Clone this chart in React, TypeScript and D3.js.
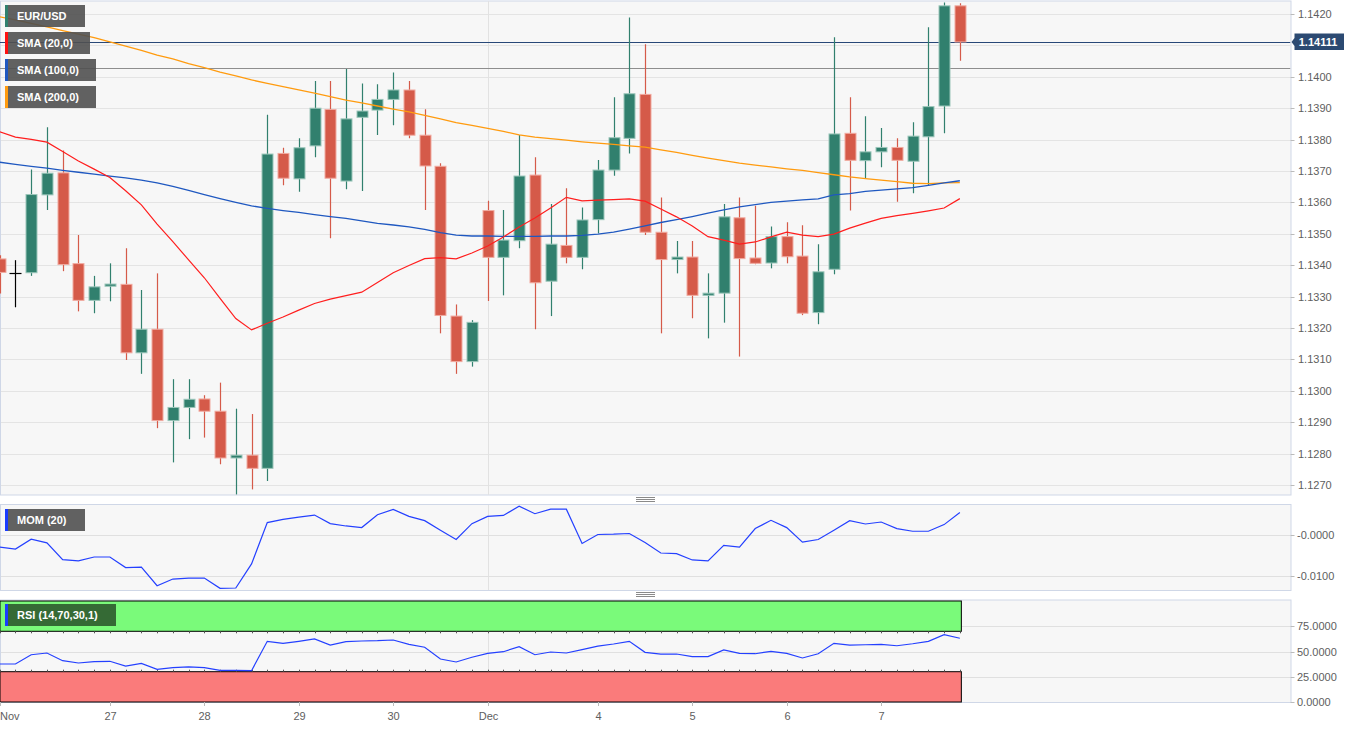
import React from 'react';
import * as d3 from 'd3';

// ---- data (4h EUR/USD candles) ----
const opens = [1.13420, 1.13374, 1.13376, 1.13624, 1.13694, 1.13405, 1.13288, 1.13333, 1.13339, 1.13121,
  1.13196, 1.12905, 1.12947, 1.12974, 1.12935, 1.12786, 1.12795, 1.12753, 1.13756, 1.13675,
  1.13780, 1.13896, 1.13668, 1.13871, 1.13894, 1.13928, 1.13958, 1.13814, 1.13715, 1.13238,
  1.13093, 1.13574, 1.13425, 1.13478, 1.13687, 1.13349, 1.13463, 1.13425, 1.13545, 1.13703,
  1.13804, 1.13944, 1.13505, 1.13418, 1.13426, 1.13304, 1.13311, 1.13551, 1.13423, 1.13407,
  1.13491, 1.13429, 1.13249, 1.13387, 1.13820, 1.13733, 1.13761, 1.13775, 1.13731, 1.13809,
  1.13907, 1.14226];
const highs = [1.13432, 1.13416, 1.13705, 1.13839, 1.13765, 1.13496, 1.13366, 1.13406, 1.13454, 1.13321,
  1.13374, 1.13037, 1.13037, 1.12986, 1.13026, 1.12943, 1.12926, 1.13879, 1.13774, 1.13804,
  1.13987, 1.13987, 1.14025, 1.13979, 1.13976, 1.14014, 1.13987, 1.13897, 1.13725, 1.13275,
  1.13225, 1.13605, 1.13576, 1.13815, 1.13744, 1.13595, 1.13645, 1.13584, 1.13735, 1.13935,
  1.14189, 1.14104, 1.13616, 1.13477, 1.13477, 1.13374, 1.13595, 1.13616, 1.13589, 1.13523,
  1.13537, 1.13527, 1.13467, 1.14126, 1.13935, 1.13874, 1.13837, 1.13804, 1.13855, 1.14158,
  1.14237, 1.14234];
const lows = [1.13310, 1.13266, 1.13366, 1.13576, 1.13381, 1.13253, 1.13247, 1.13285, 1.13098, 1.13054,
  1.12881, 1.12772, 1.12846, 1.12851, 1.12766, 1.12670, 1.12686, 1.12713, 1.13655, 1.13634,
  1.13744, 1.13486, 1.13642, 1.13636, 1.13815, 1.13846, 1.13804, 1.13576, 1.13183, 1.13054,
  1.13077, 1.13286, 1.13304, 1.13454, 1.13196, 1.13238, 1.13406, 1.13387, 1.13502, 1.13685,
  1.13756, 1.13496, 1.13183, 1.13374, 1.13231, 1.13167, 1.13217, 1.13109, 1.13403, 1.13390,
  1.13406, 1.13241, 1.13212, 1.13371, 1.13574, 1.13677, 1.13712, 1.13602, 1.13629, 1.13653,
  1.13820, 1.14051];
const closes = [1.13377, 1.13374, 1.13625, 1.13693, 1.13402, 1.13288, 1.13331, 1.13340, 1.13121, 1.13196,
  1.12905, 1.12947, 1.12973, 1.12935, 1.12786, 1.12795, 1.12753, 1.13754, 1.13677, 1.13774,
  1.13900, 1.13677, 1.13866, 1.13891, 1.13928, 1.13958, 1.13814, 1.13716, 1.13240, 1.13093,
  1.13218, 1.13425, 1.13480, 1.13684, 1.13344, 1.13467, 1.13425, 1.13544, 1.13703, 1.13806,
  1.13946, 1.13505, 1.13418, 1.13426, 1.13304, 1.13311, 1.13554, 1.13421, 1.13406, 1.13491,
  1.13427, 1.13247, 1.13379, 1.13818, 1.13734, 1.13761, 1.13775, 1.13734, 1.13811, 1.13905,
  1.14226, 1.14111];

const sma20 = [1.13825, 1.13808, 1.13801, 1.13792, 1.13762, 1.13732, 1.13706, 1.13679, 1.13637, 1.13592,
  1.13531, 1.13475, 1.13417, 1.13360, 1.13294, 1.13230, 1.13194, 1.13215, 1.13235, 1.13257,
  1.13278, 1.13292, 1.13303, 1.13314, 1.13345, 1.13376, 1.13399, 1.13421, 1.13424, 1.13420,
  1.13439, 1.13461, 1.13490, 1.13522, 1.13550, 1.13582, 1.13616, 1.13605, 1.13607, 1.13609,
  1.13611, 1.13604, 1.13579, 1.13554, 1.13525, 1.13491, 1.13480, 1.13467, 1.13474, 1.13490,
  1.13505, 1.13496, 1.13491, 1.13499, 1.13518, 1.13534, 1.13549, 1.13558, 1.13565, 1.13573,
  1.13582, 1.13612];
const sma100 = [1.13728, 1.13721, 1.13715, 1.13709, 1.13702, 1.13696, 1.13690, 1.13684, 1.13678, 1.13671,
  1.13662, 1.13651, 1.13638, 1.13625, 1.13612, 1.13600, 1.13589, 1.13581, 1.13574, 1.13568,
  1.13561, 1.13555, 1.13549, 1.13541, 1.13533, 1.13528, 1.13522, 1.13514, 1.13504, 1.13496,
  1.13493, 1.13493, 1.13492, 1.13492, 1.13492, 1.13493, 1.13493, 1.13495, 1.13499, 1.13505,
  1.13515, 1.13525, 1.13536, 1.13545, 1.13555, 1.13566, 1.13576, 1.13586, 1.13593, 1.13600,
  1.13604, 1.13608, 1.13611, 1.13624, 1.13628, 1.13635, 1.13639, 1.13643, 1.13647, 1.13654,
  1.13662, 1.13669];
const sma200 = [1.14191, 1.14181, 1.14170, 1.14159, 1.14147, 1.14136, 1.14125, 1.14111, 1.14098, 1.14084,
  1.14069, 1.14057, 1.14042, 1.14029, 1.14015, 1.14003, 1.13990, 1.13979, 1.13969, 1.13958,
  1.13948, 1.13937, 1.13926, 1.13917, 1.13907, 1.13897, 1.13888, 1.13877, 1.13866, 1.13854,
  1.13845, 1.13836, 1.13826, 1.13815, 1.13808, 1.13803, 1.13798, 1.13793, 1.13789, 1.13785,
  1.13780, 1.13776, 1.13767, 1.13759, 1.13750, 1.13741, 1.13733, 1.13725, 1.13719, 1.13713,
  1.13707, 1.13702, 1.13695, 1.13688, 1.13681, 1.13676, 1.13671, 1.13666, 1.13661, 1.13660,
  1.13662, 1.13663];

const mom20 = [-0.00295, -0.00344, -0.00098, -0.00189, -0.00607, -0.00639, -0.00541, -0.00541, -0.00804, -0.00794,
  -0.01253, -0.01088, -0.01064, -0.01064, -0.01319, -0.01310, -0.00713, 0.00312, 0.00393, 0.00450,
  0.00499, 0.00287, 0.00229, 0.00189, 0.00509, 0.00639, 0.00467, 0.00361, 0.00123, -0.00106,
  0.00287, 0.00467, 0.00491, 0.00720, 0.00533, 0.00646, 0.00646, -0.00204, 0.00017, 0.00025,
  0.00042, -0.00179, -0.00442, -0.00459, -0.00614, -0.00639, -0.00253, -0.00295, 0.00165, 0.00369,
  0.00189, -0.00172, -0.00106, 0.00123, 0.00361, 0.00278, 0.00327, 0.00165, 0.00098, 0.00098,
  0.00263, 0.00565];
const rsi14 = [37.6, 37.6, 46.8, 48.5, 40.9, 38.6, 39.9, 40.3, 35.6, 38.3,
  32.4, 34.0, 34.7, 34.0, 31.4, 31.4, 31.0, 60.1, 58.1, 60.1,
  62.4, 56.4, 59.7, 60.4, 60.7, 61.4, 57.1, 54.2, 42.6, 39.6,
  44.3, 48.2, 49.8, 54.8, 46.8, 49.5, 48.5, 51.8, 55.4, 57.4,
  60.1, 49.2, 47.5, 47.5, 44.9, 44.9, 51.5, 48.2, 47.8, 50.2,
  48.2, 43.6, 47.8, 58.1, 56.4, 56.7, 57.1, 55.7, 57.7, 60.1,
  66.6, 63.1];

const priceTicks = [1.1270, 1.1280, 1.1290, 1.1300, 1.1310, 1.1320, 1.1330, 1.1340, 1.1350, 1.1360, 1.1370, 1.1380, 1.1390, 1.1400, 1.1420];
const momTicks = [0, -0.01];
const momTickLabels = ['-0.0000', '-0.0100'];
const rsiTicks = [75, 50, 25, 0];
const rsiTickLabels = ['75.0000', '50.0000', '25.0000', '0.0000'];
const dateTickIndex = [7, 13, 19, 25, 31, 38, 44, 50, 56];
const dateTickLabels = ['27', '28', '29', '30', 'Dec', '4', '5', '6', '7'];
const lastPrice = 1.14111;
const refLevel = 1.14028;
const rsiUpper = 70;
const rsiLower = 30;

const GREEN = '#31806e';
const RED = '#d55a49';
const FONT = '"Liberation Sans", Arial, sans-serif';

export default function App() {
  const PR = 1290.5; // plot right edge
  const n = opens.length;
  const x = d3.scaleLinear().domain([0, 82]).range([-0.3, 1290.4]);
  const y = d3.scaleLinear().domain([1.1270, 1.1420]).range([485, 14]);
  const yM = d3.scaleLinear().domain([-0.01, 0]).range([575.5, 535.2]);
  const yR = d3.scaleLinear().domain([0, 100]).range([702, 601]);

  const mk = (sc: (v: number) => number) =>
    d3.line<number>().x((_, i) => x(i)).y((v) => sc(v));
  const mainLine = mk(y);
  const momLine = mk(yM);
  const rsiLine = mk(yR);

  const cx = (i: number) => Math.round(x(i)) + 0.5;
  const lastX = x(n - 1);

  const allTicks = [...priceTicks.slice(0, 14), 1.1410 - 0.0000, 1.1420].filter((v, i, a) => a.indexOf(v) === i);
  const gridPrices = d3.range(0, 16).map((k) => +(1.1270 + k * 0.001).toFixed(4));

  const legend = (yy: number, w: number, label: string, marker: string, fill = '#505050') => (
    <g key={label}>
      <rect x={5} y={yy} width={w} height={22} fill={fill} opacity={0.9} />
      <rect x={5} y={yy} width={3} height={22} fill={marker} />
      <text x={17} y={yy + 15} fill="#fff" fontSize={11} fontWeight="bold" fontFamily={FONT}>{label}</text>
    </g>
  );

  return (
    <svg width={1361} height={729} style={{ position: 'absolute', left: 0, top: 0, background: '#fff' }}>
      <defs>
        <clipPath id="mainClip"><rect x={0} y={1} width={PR} height={494} /></clipPath>
        <clipPath id="momClip"><rect x={0} y={504} width={PR} height={86} /></clipPath>
        <clipPath id="rsiClip"><rect x={0} y={600} width={PR} height={103} /></clipPath>
      </defs>

      {/* panel backgrounds */}
      <rect x={0.5} y={1} width={PR} height={494} fill="#f7f7f7" stroke="#cfd7e7" />
      <rect x={0.5} y={504.5} width={PR} height={86} fill="#f7f7f7" stroke="#cfd7e7" />
      <rect x={0.5} y={600} width={PR} height={102.5} fill="#f7f7f7" stroke="#cfd7e7" />

      {/* main grid */}
      {gridPrices.map((p) => (
        <line key={'g' + p} x1={1} x2={PR} y1={Math.round(y(p)) + 0.5} y2={Math.round(y(p)) + 0.5} stroke="#e4e4e4" />
      ))}
      {/* month separator */}
      <line x1={cx(31)} x2={cx(31)} y1={1} y2={495} stroke="#e2e2e2" />
      <line x1={cx(31)} x2={cx(31)} y1={505} y2={590} stroke="#e2e2e2" />
      <line x1={cx(31)} x2={cx(31)} y1={600} y2={702} stroke="#e2e2e2" />

      {/* main panel contents */}
      <g clipPath="url(#mainClip)">
        <line x1={0} x2={PR} y1={Math.round(y(refLevel)) + 0.5} y2={Math.round(y(refLevel)) + 0.5} stroke="#8e8e8e" strokeWidth={1.2} />
        <line x1={0} x2={PR} y1={Math.round(y(lastPrice)) + 0.5} y2={Math.round(y(lastPrice)) + 0.5} stroke="#284878" strokeWidth={1.2} />
        {opens.map((o, i) => {
          const c = closes[i];
          const col = o === c ? '#000' : c > o ? GREEN : RED;
          const top = y(Math.max(o, c));
          const bot = y(Math.min(o, c));
          const xc = cx(i);
          return (
            <g key={'c' + i}>
              <line x1={xc} x2={xc} y1={y(highs[i])} y2={y(lows[i])} stroke={col} strokeWidth={1.2} />
              {o === c ? (
                <line x1={xc - 6} x2={xc + 6} y1={Math.round(top) + 0.5} y2={Math.round(top) + 0.5} stroke="#000" strokeWidth={1.2} />
              ) : (
                <rect x={xc - 5.5} y={top} width={11} height={Math.max(1.5, bot - top)} fill={col}
                  stroke={c > o ? '#9bc6ba' : '#f1aaa0'} strokeWidth={1} />
              )}
            </g>
          );
        })}
        <path d={mainLine(sma200) || ''} fill="none" stroke="#ff9b0f" strokeWidth={1.3} />
        <path d={mainLine(sma100) || ''} fill="none" stroke="#1f58c0" strokeWidth={1.3} />
        <path d={mainLine(sma20) || ''} fill="none" stroke="#ff1e1e" strokeWidth={1.2} />
      </g>

      {/* main legend */}
      {legend(5, 80, 'EUR/USD', GREEN)}
      {legend(32, 85, 'SMA (20,0)', '#ff1010')}
      {legend(59, 91, 'SMA (100,0)', '#1f58c0')}
      {legend(86, 91, 'SMA (200,0)', '#ff9b0f')}

      {/* price axis */}
      {priceTicks.map((p) => (
        <g key={'pt' + p}>
          <line x1={PR} x2={PR + 4} y1={Math.round(y(p)) + 0.5} y2={Math.round(y(p)) + 0.5} stroke="#bbb" />
          <text x={1298} y={y(p) + 4} fontSize={11} fill="#5e5e5e" fontFamily={FONT}>{p.toFixed(4)}</text>
        </g>
      ))}
      {/* last price tag */}
      <g>
        <path d={`M${PR + 1},${y(lastPrice)} L${PR + 4},${y(lastPrice) - 4} L${PR + 4},${y(lastPrice) - 8.5} L1344,${y(lastPrice) - 8.5} L1344,${y(lastPrice) + 8} L${PR + 4},${y(lastPrice) + 8} L${PR + 4},${y(lastPrice) + 4} Z`} fill="#2c4a72" />
        <text x={1318} y={y(lastPrice) + 4} textAnchor="middle" fontSize={11} fontWeight="bold" fill="#fff" fontFamily={FONT}>{lastPrice.toFixed(5)}</text>
      </g>

      {/* panel handles */}
      {[497, 499, 501].map((yy) => <line key={'h1' + yy} x1={636} x2={655} y1={yy + 0.5} y2={yy + 0.5} stroke="#8a8a8a" />)}
      {[592, 594, 596].map((yy) => <line key={'h2' + yy} x1={636} x2={655} y1={yy + 0.5} y2={yy + 0.5} stroke="#8a8a8a" />)}

      {/* MOM panel */}
      {momTicks.map((v, k) => (
        <g key={'mt' + k}>
          <line x1={1} x2={PR} y1={Math.round(yM(v)) + 0.5} y2={Math.round(yM(v)) + 0.5} stroke="#e0e0e0" />
          <line x1={PR} x2={PR + 4} y1={Math.round(yM(v)) + 0.5} y2={Math.round(yM(v)) + 0.5} stroke="#bbb" />
          <text x={1297} y={yM(v) + 4} fontSize={11} fill="#5e5e5e" fontFamily={FONT}>{momTickLabels[k]}</text>
        </g>
      ))}
      <g clipPath="url(#momClip)">
        <path d={momLine(mom20) || ''} fill="none" stroke="#2440ff" strokeWidth={1.2} />
      </g>
      {legend(509, 80, 'MOM (20)', '#1a3cff')}

      {/* RSI panel */}
      {rsiTicks.map((v, k) => (
        <g key={'rt' + k}>
          {v > 0 && <line x1={1} x2={PR} y1={Math.round(yR(v)) + 0.5} y2={Math.round(yR(v)) + 0.5} stroke="#e0e0e0" />}
          <line x1={PR} x2={PR + 4} y1={Math.round(yR(v)) + 0.5} y2={Math.round(yR(v)) + 0.5} stroke="#bbb" />
          <text x={1297} y={yR(v) + 4} fontSize={11} fill="#5e5e5e" fontFamily={FONT}>{rsiTickLabels[k]}</text>
        </g>
      ))}
      <g clipPath="url(#rsiClip)">
        <rect x={0} y={yR(100)} width={lastX + 1.5} height={yR(rsiUpper) - yR(100)} fill="#7afa7a" stroke="#000" strokeWidth={1} />
        <rect x={0} y={yR(rsiLower)} width={lastX + 1.5} height={yR(0) - yR(rsiLower)} fill="#fa7b7b" stroke="#000" strokeWidth={1} />
        {opens.map((_, i) => (
          <g key={'rk' + i}>
            <line x1={cx(i)} x2={cx(i)} y1={yR(rsiUpper)} y2={yR(rsiUpper) + 2} stroke="#555" />
            <line x1={cx(i)} x2={cx(i)} y1={yR(rsiLower) - 2} y2={yR(rsiLower)} stroke="#555" />
          </g>
        ))}
        <path d={rsiLine(rsi14) || ''} fill="none" stroke="#2440ff" strokeWidth={1.2} />
      </g>
      {legend(604, 111, 'RSI (14,70,30,1)', '#1a3cff', '#2d5a2d')}

      {/* date axis */}
      <text x={0} y={720} fontSize={11} fill="#5e5e5e" fontFamily={FONT}>Nov</text>
      <line x1={0.5} x2={0.5} y1={702} y2={706} stroke="#bbb" />
      {dateTickIndex.map((i, k) => (
        <g key={'dt' + k}>
          <line x1={cx(i)} x2={cx(i)} y1={702} y2={706} stroke="#bbb" />
          <text x={cx(i)} y={720} textAnchor="middle" fontSize={11} fill="#5e5e5e" fontFamily={FONT}>{dateTickLabels[k]}</text>
        </g>
      ))}
    </svg>
  );
}
